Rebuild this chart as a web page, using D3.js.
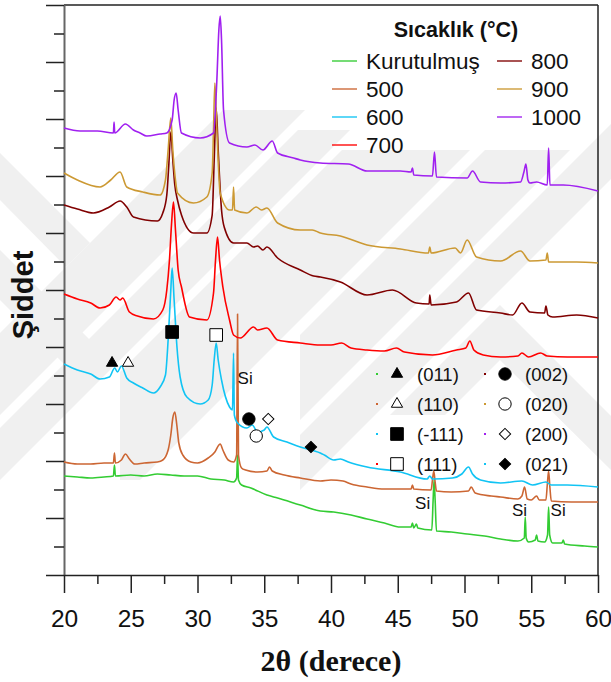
<!DOCTYPE html>
<html>
<head>
<meta charset="utf-8">
<script src="https://cdn.jsdelivr.net/npm/d3@7"></script>
<style>
  body { margin: 0; background: #fff; }
  svg { display: block; font-family: "Liberation Sans", Arial, sans-serif; }
</style>
</head>
<body>
<svg id="chart" width="611" height="682"></svg>
<script>
// series names (legend order) and their line colours
const seriesNames = ["Kurutulmuş", "500", "600", "700", "800", "900", "1000"];
const seriesColors = ["#33cc33", "#cc6633", "#11c4f4", "#ff0000", "#800000", "#cc9933", "#a020f0"];

// [2theta, intensity (a.u., offset already applied)]
const kurutulmus = [[20.0,99],[21.0,98],[22.0,97],[23.0,98],[23.7,99],[23.78,110],[23.85,99],[25.0,100],[26.0,99],[27.0,101],[28.0,100],[29.0,99],[30.0,99],[31.0,96],[32.0,95],[32.7,93],[32.93,97],[33.0,120],[33.07,95],[33.3,90],[34.0,87],[35.2,80],[36.0,77],[37.7,70],[39.2,64],[40.2,63],[41.5,60],[42.7,56],[44.0,52],[45.2,48],[46.0,48],[46.1,52],[46.2,47],[46.4,51],[46.5,47],[47.55,45],[47.65,75],[47.72,95],[47.8,75],[47.9,44],[49.0,43],[50.2,41],[51.5,39],[52.7,36],[54.0,34],[54.48,37],[54.55,58],[54.62,37],[54.8,33],[55.3,35],[55.4,40],[55.5,34],[56.0,33],[56.22,40],[56.3,68],[56.38,40],[56.6,32],[57.3,32],[57.4,35],[57.5,31],[59.0,29],[60.0,28]];
const t500 = [[20.0,113],[21.0,111],[22.0,111],[23.0,112],[23.7,112],[23.78,122],[23.85,112],[24.3,115],[24.6,121],[24.9,116],[25.3,111],[26.0,112],[27.0,113],[27.4,115],[27.8,125],[28.0,140],[28.15,157],[28.3,163],[28.45,150],[28.6,132],[28.9,120],[29.5,113],[30.0,112],[30.8,117],[31.3,123],[31.6,130],[31.7,131],[31.9,125],[32.3,115],[32.7,113],[32.93,120],[33.0,261],[33.07,120],[33.3,107],[33.6,105],[34.5,103],[35.2,104],[35.4,108],[35.6,104],[36.5,100],[37.7,97],[39.2,94],[40.0,95],[40.9,94],[41.5,91],[42.7,88],[44.0,86],[45.5,86],[46.0,86],[46.1,90],[46.2,86],[47.5,85],[47.6,95],[47.7,104],[47.8,93],[47.9,84],[49.0,83],[50.3,84],[50.5,88],[50.8,82],[52.0,79],[52.7,78],[54.0,76],[54.3,79],[54.5,88],[54.7,76],[55.0,75],[55.4,79],[55.6,75],[56.1,75],[56.2,90],[56.3,104],[56.4,87],[56.5,74],[58.0,73],[60.0,73]];
const t600 = [[20.0,211],[21.0,205],[22.0,201],[22.7,196],[23.4,198],[23.8,207],[24.0,203],[24.3,209],[24.7,197],[25.2,192],[25.9,187],[26.7,182],[27.2,188],[27.6,200],[27.8,235],[28.0,285],[28.1,307],[28.25,275],[28.45,230],[28.7,198],[29.2,178],[30.2,171],[30.8,175],[31.1,190],[31.25,215],[31.4,232],[31.55,215],[31.8,195],[32.4,168],[32.62,165],[32.7,222],[32.76,160],[33.0,152],[33.7,147],[34.1,150],[34.5,143],[35.0,145],[35.2,148],[35.7,138],[36.7,133],[37.7,128],[39.2,122],[39.5,120],[40.2,115],[40.7,116],[41.3,113],[42.7,108],[45.2,103],[47.2,96],[47.4,99],[47.6,96],[49.1,97],[49.8,101],[50.3,108],[50.6,101],[51.2,95],[52.7,92],[54.3,94],[55.1,90],[56.1,93],[56.5,90],[57.7,90],[60.0,88]];
const t700 = [[20.0,281],[21.0,276],[22.0,272],[22.7,267],[23.4,270],[23.9,278],[24.2,275],[24.4,277],[24.9,263],[25.5,259],[26.7,256],[27.4,265],[27.7,285],[27.9,315],[28.05,350],[28.2,373],[28.35,345],[28.55,305],[28.8,288],[29.4,258],[30.7,255],[31.2,282],[31.35,315],[31.5,338],[31.65,315],[31.9,288],[32.4,255],[32.7,240],[33.2,237],[34.2,248],[34.5,245],[35.2,247],[36.0,235],[37.7,232],[39.2,230],[40.0,230],[40.8,232],[41.5,227],[42.7,225],[44.0,224],[44.9,227],[45.5,223],[47.6,220],[49.4,225],[50.1,227],[50.4,234],[50.7,225],[51.4,220],[52.7,218],[54.0,219],[54.3,222],[54.8,218],[55.7,222],[56.2,219],[57.7,218],[60.0,218]];
const t800 = [[20.0,370],[21.0,366],[22.2,362],[23.4,368],[24.2,374],[24.7,368],[25.2,358],[27.0,354],[27.4,362],[27.7,380],[27.85,410],[28.0,443],[28.15,415],[28.3,390],[28.5,375],[28.8,360],[29.7,342],[30.7,342],[31.1,360],[31.25,415],[31.4,467],[31.55,425],[31.8,365],[32.0,348],[32.7,332],[33.7,332],[34.2,328],[34.5,329],[34.9,325],[35.2,328],[36.0,317],[37.7,305],[38.7,299],[39.2,298],[40.7,293],[42.7,280],[44.6,285],[46.4,272],[47.35,271],[47.4,280],[47.5,270],[49.4,273],[50.3,282],[50.9,265],[52.7,262],[53.6,260],[54.3,272],[54.9,263],[56.0,262],[56.1,269],[56.25,260],[56.6,258],[58.4,260],[60.0,257]];
const t900 = [[20.0,402],[21.0,395],[22.7,388],[23.5,395],[24.2,403],[24.7,388],[25.9,383],[27.2,380],[27.6,395],[27.8,425],[28.0,457],[28.15,425],[28.35,395],[28.5,382],[29.7,372],[30.7,378],[31.1,402],[31.2,445],[31.3,492],[31.45,445],[31.7,382],[32.4,365],[32.62,365],[32.7,388],[32.78,365],[33.7,362],[34.4,368],[34.8,365],[35.2,367],[36.0,352],[37.7,345],[38.6,345],[39.2,342],[40.7,339],[42.7,330],[45.2,326],[47.3,322],[47.4,328],[47.5,322],[49.3,327],[49.7,322],[50.2,335],[50.9,318],[52.7,314],[54.2,324],[54.9,314],[56.1,315],[56.2,322],[56.3,313],[58.4,313],[60.0,312]];
const t1000 = [[20.0,447],[21.2,444],[22.5,444],[23.7,442],[23.75,453],[23.8,442],[24.6,451],[25.2,445],[25.7,442],[26.2,439],[27.2,441],[27.7,442],[28.1,455],[28.25,475],[28.4,482],[28.55,465],[28.8,442],[30.2,437],[31.2,442],[31.45,495],[31.6,545],[31.7,559],[31.8,535],[31.95,465],[32.4,432],[33.7,428],[34.3,430],[34.9,425],[35.6,434],[36.0,422],[37.2,417],[37.7,415],[39.2,412],[41.3,411],[42.7,404],[45.2,404],[46.0,403],[46.1,407],[46.2,400],[47.6,399],[47.75,423],[47.9,398],[50.2,397],[50.6,404],[51.2,393],[52.7,392],[54.2,393],[54.45,403],[54.6,411],[54.75,395],[54.9,392],[55.4,393],[56.2,390],[56.3,427],[56.4,390],[57.4,390],[60.0,384]];
const seriesData = [kurutulmus, t500, t600, t700, t800, t900, t1000];

// phase markers: label, [2theta, intensity]
const phaseLabels = ["(011)", "(110)", "(-111)", "(111)", "(002)", "(020)", "(200)", "(021)"];
const phasePoints = [[23.6,212],[24.8,212],[28.1,243],[31.4,240],[33.85,156],[34.4,139],[35.3,156],[38.5,128]];
const phaseShapes = ["triangle", "triangle", "square", "square", "circle", "circle", "diamond", "diamond"];
const phaseFilled = [true, false, true, false, true, false, false, true];

// silicon reference peaks
const siPoints = [[33.0,191],[46.3,66],[53.55,59],[56.45,59]];

const xTicks = [20, 25, 30, 35, 40, 45, 50, 55, 60];

const svg = d3.select("#chart");
const x = d3.scaleLinear().domain([20, 60]).range([64, 598]);
const y = d3.scaleLinear().domain([0, 570]).range([575, 5]);

// faint background watermark (page decoration of the source, not data)
const wmGray = [
  [[0,153],[90,243],[66,267],[0,200]],
  [[0,250],[90,340],[65,365],[0,300]],
  [[223,110],[305,110],[0,415],[0,333]],
  [[298,130],[350,130],[0,480],[0,428]],
  [[342,150],[470,150],[140,480],[120,480],[120,372]],
  [[485,150],[570,150],[300,420],[300,335]],
  [[611,124],[611,179],[300,490],[300,435]],
  [[500,305],[611,416],[611,470],[500,360],[445,415],[390,415]]
];
svg.append("g").selectAll("polygon")
   .data(wmGray)
   .enter().append("polygon")
   .attr("points", d => d.map(p => p.join(",")).join(" "))
   .attr("fill", "#f0f0f0");

// frame lines (top and right)
svg.append("line").attr("x1", x(20)).attr("x2", x(60)).attr("y1", y(570)).attr("y2", y(570))
   .attr("stroke", "#222").attr("stroke-width", 1.5);
svg.append("line").attr("x1", x(60)).attr("x2", x(60)).attr("y1", y(570)).attr("y2", y(0))
   .attr("stroke", "#222").attr("stroke-width", 1.5);

// y axis: ticks only, no labels
const yAxis = svg.append("g").attr("transform", `translate(${x(20)},0)`)
   .call(d3.axisLeft(y).tickValues(d3.range(0, 571, 57)).tickSize(18).tickSizeOuter(0).tickFormat(""));
svg.append("g").attr("transform", `translate(${x(20)},0)`)
   .call(d3.axisLeft(y).tickValues(d3.range(28.5, 570, 57)).tickSize(10).tickSizeOuter(0).tickFormat(""))
   .select(".domain").remove();
yAxis.select(".domain").attr("stroke", "#666").attr("stroke-width", 2);

// x axis
const xAxis = svg.append("g").attr("transform", `translate(0,${y(0)})`)
   .call(d3.axisBottom(x).tickValues(xTicks).tickSize(18).tickSizeOuter(0));
svg.append("g").attr("transform", `translate(0,${y(0)})`)
   .call(d3.axisBottom(x).tickValues(d3.range(22.5, 60, 5)).tickSize(9).tickSizeOuter(0).tickFormat(""))
   .select(".domain").remove();
xAxis.selectAll("text").attr("y", 52).attr("dy", null)
   .style("font-size", "24.5px").style("font-family", "'Liberation Sans', Arial, sans-serif").attr("fill", "#111");
svg.selectAll(".tick line").attr("stroke", "#222").attr("stroke-width", 1.5);
xAxis.select(".domain").attr("stroke", "#222").attr("stroke-width", 1.5);

// data lines
const line = d3.line().x(d => x(d[0])).y(d => y(d[1])).curve(d3.curveMonotoneX);
svg.append("g").selectAll("path")
   .data(seriesData)
   .enter().append("path")
   .attr("d", line)
   .attr("fill", "none")
   .attr("stroke", (d, i) => seriesColors[i])
   .attr("stroke-width", 1.6)
   .attr("stroke-linejoin", "round");

// symbol helper
function symbolPath(shape, size) {
  if (shape === "triangle") return d3.symbol(d3.symbolTriangle, size)();
  if (shape === "circle") return d3.symbol(d3.symbolCircle, size)();
  return d3.symbol(d3.symbolSquare, size)();
}
const shapeSize = { triangle: 55, square: 160, circle: 120, diamond: 64 };

// markers on the plot
svg.append("g").selectAll("path")
   .data(phasePoints)
   .enter().append("path")
   .attr("d", (d, i) => symbolPath(phaseShapes[i], shapeSize[phaseShapes[i]]))
   .attr("transform", (d, i) => `translate(${x(d[0])},${y(d[1])})` + (phaseShapes[i] === "diamond" ? " rotate(45)" : ""))
   .attr("fill", (d, i) => phaseFilled[i] ? "#000" : "#fff")
   .attr("stroke", "#000")
   .attr("stroke-width", 1);

// Si labels
svg.append("g").selectAll("text")
   .data(siPoints)
   .enter().append("text")
   .attr("x", d => x(d[0]))
   .attr("y", d => y(d[1]))
   .style("font-size", "17px")
   .attr("fill", "#111")
   .text("Si");

// temperature legend
const legend = svg.append("g");
legend.append("text").attr("x", 456).attr("y", 37).attr("text-anchor", "middle")
   .style("font-size", "21.5px").style("font-weight", "bold").attr("fill", "#111")
   .text("Sıcaklık (°C)");
seriesNames.forEach((name, i) => {
  const col = i < 4 ? 0 : 1;
  const row = i < 4 ? i : i - 4;
  const lx = col === 0 ? 332 : 497;
  const ly = 61 + row * 28;
  legend.append("line").attr("x1", lx).attr("x2", lx + 25).attr("y1", ly).attr("y2", ly)
     .attr("stroke", seriesColors[i]).attr("stroke-width", 1.8).attr("opacity", 0.75);
  legend.append("text").attr("x", lx + 34).attr("y", ly + 7.5)
     .style("font-size", "22.5px").attr("fill", "#111").text(name);
});

// phase legend
const phaseLegend = svg.append("g");
const dotColors = ["#33cc33", "#cc6633", "#11c4f4", "#ff0000", "#800000", "#cc9933", "#a020f0", "#11c4f4"];
phaseLabels.forEach((label, i) => {
  const col = i < 4 ? 0 : 1;
  const row = i % 4;
  const mx = col === 0 ? 397 : 505;
  const my = 374 + row * 30;
  const shape = phaseShapes[i];
  phaseLegend.append("rect").attr("x", mx - 21).attr("y", my - 1).attr("width", 2).attr("height", 2)
     .attr("fill", dotColors[i]);
  phaseLegend.append("path")
     .attr("d", symbolPath(shape, shapeSize[shape]))
     .attr("transform", `translate(${mx},${my})` + (shape === "diamond" ? " rotate(45)" : ""))
     .attr("fill", phaseFilled[i] ? "#000" : "#fff")
     .attr("stroke", "#000").attr("stroke-width", 1);
  phaseLegend.append("text").attr("x", mx + 20).attr("y", my + 6.5)
     .style("font-size", "18.5px").attr("fill", "#111").text(label);
});

// axis titles
svg.append("text").attr("x", 331).attr("y", 671).attr("text-anchor", "middle")
   .style("font-family", "'Liberation Serif', 'Times New Roman', serif")
   .style("font-size", "30px").style("font-weight", "bold").attr("fill", "#111")
   .text("2θ (derece)");
svg.append("text").attr("transform", "translate(33,295) rotate(-90)").attr("text-anchor", "middle")
   .style("font-size", "29px").style("font-weight", "bold").attr("fill", "#111")
   .text("Şiddet");
</script>
</body>
</html>
